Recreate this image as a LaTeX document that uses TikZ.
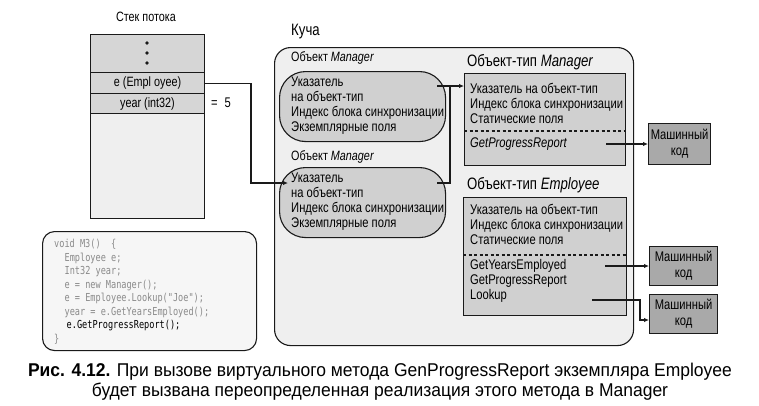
\documentclass[tikz,border=0pt]{standalone}
\usepackage{fontspec}
\setmainfont{Liberation Sans}[FakeStretch=0.8]
\newfontfamily\capfont{Liberation Sans}[FakeStretch=0.945]
\newfontfamily\codefont{DejaVu Sans Mono}[FakeStretch=0.78]
\usetikzlibrary{arrows.meta}
\definecolor{heapbg}{HTML}{EFEFEF}
\definecolor{cellbg}{HTML}{D6D6D6}
\definecolor{objbg}{HTML}{D0D0D0}
\definecolor{codebg}{HTML}{F6F6F6}
\definecolor{mcbg}{HTML}{A9A9A9}
\definecolor{codegray}{HTML}{8A8A8A}
\definecolor{ink}{HTML}{1A1A1A}
\tikzset{
  box/.style={draw=ink, line width=1.1pt, inner sep=0pt, anchor=north west},
  cell/.style={box, fill=cellbg, minimum width=114pt, font=\fontsize{13.5}{15}\selectfont},
  typebox/.style={box, fill=objbg},
  objshape/.style={box, fill=objbg, rounded corners=26pt, minimum width=166pt, minimum height=70pt},
  txt/.style={anchor=west, inner sep=0pt, font=\fontsize{14}{15}\selectfont, align=left},
  title/.style={anchor=west, inner sep=0pt, font=\fontsize{16.5}{18}\selectfont},
  mcode/.style={box, fill=mcbg, align=center, font=\fontsize{14}{16}\selectfont},
  ptr/.style={draw=ink, line width=1.1pt, -{Latex[length=5pt,width=4.5pt]}},
  ln/.style={draw=ink, line width=1.1pt},
}
\begin{document}
\begin{tikzpicture}[x=1pt, y=-1pt]
\useasboundingbox (0,0) rectangle (759,405);

% ---------- stack ----------
\node[anchor=center, inner sep=0pt, font=\fontsize{13.5}{15}\selectfont] (stacktitle) at (146,17) {Стек потока};
\node[cell, minimum height=38pt] (sdots) at (90,34) {};
\fill[ink] (147,43) circle (1.8pt) (147,53) circle (1.8pt) (147,63) circle (1.8pt);
\node[cell, minimum height=21pt] (se) at (90,72) {e (Empl oyee)};
\node[cell, minimum height=20pt] (sy) at (90,93) {year (int32)};
\node[cell, fill=heapbg, minimum height=105pt] (srest) at (90,113) {};
\node[txt] (eq) at (211,103) {=\hspace{7pt}5};

% ---------- code box ----------
\node[box, fill=codebg, rounded corners=12pt, minimum width=214pt, minimum height=119pt] (code) at (42,231) {};
\node[anchor=north west, inner sep=0pt, align=left, text=codegray,
      font=\codefont\fontsize{11}{13.5}\selectfont] (codetext) at (54,239)
{void M3()\hspace{10.4pt}\{\\
\hspace*{10.4pt}Employee e;\\
\hspace*{10.4pt}Int32 year;\\
\hspace*{10.4pt}e = new Manager();\\
\hspace*{10.4pt}e = Employee.Lookup("Joe");\\
\hspace*{10.4pt}year = e.GetYearsEmployed();\\
\hspace*{12.5pt}\textcolor{black}{e.GetProgressReport();}\\
\}};

% ---------- heap ----------
\node[title] (heaptitle) at (291,32) {Куча};
\node[box, fill=heapbg, rounded corners=16pt, minimum width=359pt, minimum height=298pt] (heap) at (274,47) {};

% object 1
\node[txt, font=\fontsize{13.5}{15}\selectfont] (o1lab) at (291,58) {Объект \textit{Manager}};
\node[objshape] (o1) at (279,71) {};
\node[txt] (o1t) at (291,105.5) {Указатель\\на объект-тип\\Индекс блока синхронизации\\Экземплярные поля};

% object 2
\node[txt, font=\fontsize{13.5}{15}\selectfont] (o2lab) at (291,157) {Объект \textit{Manager}};
\node[objshape] (o2) at (279,167) {};
\node[txt] (o2t) at (291,202) {Указатель\\на объект-тип\\Индекс блока синхронизации\\Экземплярные поля};

% type Manager
\node[title] (mtlab) at (467,62) {Объект-тип \textit{Manager}};
\node[typebox, minimum width=161pt, minimum height=92pt] (mt) at (464,73) {};
\node[txt] (mtt) at (470,103) {Указатель на объект-тип\\Индекс блока синхронизации\\Статические поля};
\draw[ln, dashed, dash pattern=on 3pt off 2.5pt] (mt.west |- 0,131) -- (mt.east |- 0,131);
\node[txt] (mtm) at (470,144) {\textit{GetProgressReport}};

% type Employee
\node[title] (etlab) at (467,185) {Объект-тип \textit{Employee}};
\node[typebox, minimum width=163pt, minimum height=118pt] (et) at (463,197) {};
\node[txt] (ett) at (470,224.5) {Указатель на объект-тип\\Индекс блока синхронизации\\Статические поля};
\draw[ln, dashed, dash pattern=on 3pt off 2.5pt] (et.west |- 0,255) -- (et.east |- 0,255);
\node[txt] (etm) at (470,281) {GetYearsEmployed\\GetProgressReport\\Lookup};

% machine code boxes
\node[mcode, minimum width=62pt, minimum height=41pt] (mc1) at (648,123) {Машинный\\код};
\node[mcode, minimum width=68pt, minimum height=39pt] (mc2) at (649,246) {Машинный\\код};
\node[mcode, minimum width=68pt, minimum height=39pt] (mc3) at (649,294) {Машинный\\код};

% ---------- connectors ----------
\coordinate (p1) at (437,86);
\coordinate (j1) at (450,86);
\coordinate (p2) at (437,183);
\draw[ptr] (p1) -- (mt.west |- p1);
\draw[ln] (p2) -| (j1);

\coordinate (b2) at (251,183);
\coordinate (a2) at (288,183);
\draw[ptr] (se.east) -| (b2) -- (a2);

\coordinate (g1) at (606,144);
\draw[ptr] (g1) -- (mc1.west |- g1);
\coordinate (g2) at (605,266);
\draw[ptr] (g2) -- (mc2.west |- g2);
\coordinate (g3) at (592,300);
\coordinate (g3b) at (640,320);
\draw[ptr] (g3) -| (g3b) -- (mc3.west |- g3b);

% ---------- caption ----------
\node[anchor=center, inner sep=0pt, align=center, font=\capfont\fontsize{18.5}{20}\selectfont] (caption) at (380,382)
{\textbf{Рис. 4.12.} При вызове виртуального метода GenProgressReport экземпляра Employee\\
будет вызвана переопределенная реализация этого метода в Manager};
\end{tikzpicture}
\end{document}
